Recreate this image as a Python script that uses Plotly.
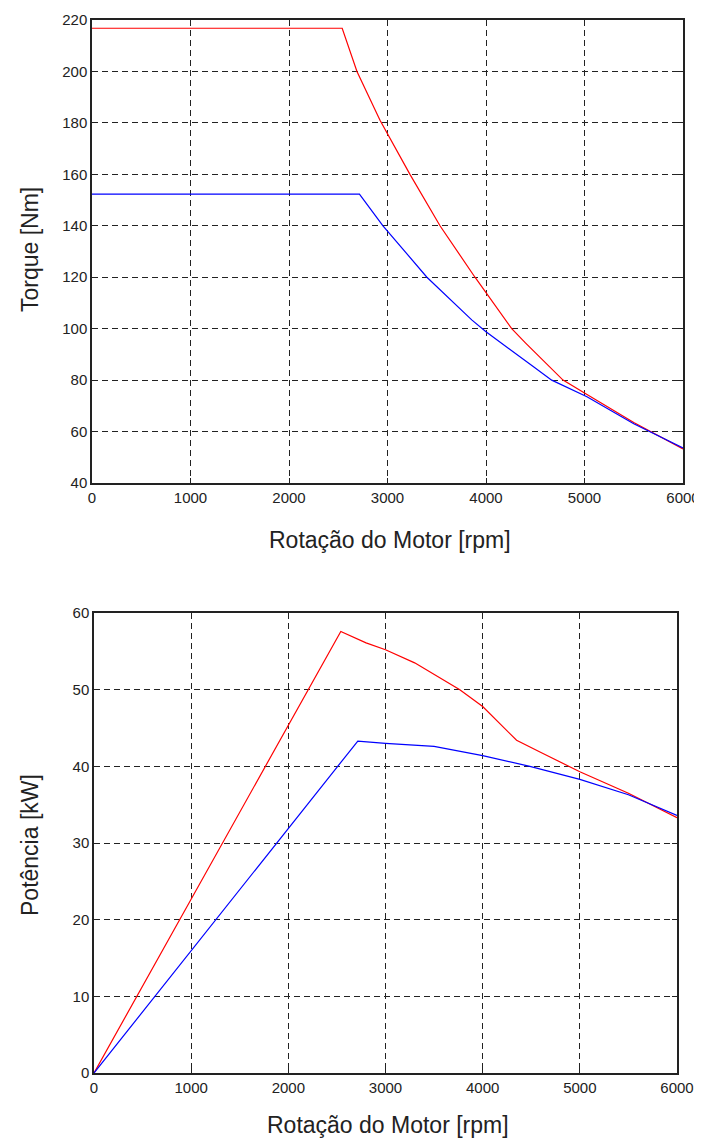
import plotly.graph_objects as go

# Torque curves (rpm, Nm)
red_torque_rpm = [0, 2540, 2690, 2924, 3228, 3533, 3888, 4261, 4400, 4782, 5000, 5500, 6000]
red_torque_nm = [216.8, 216.8, 200, 181, 160, 140, 120, 100, 94.5, 80, 75, 63.5, 53.2]
blue_torque_rpm = [0, 2715, 2954, 3400, 3855, 4000, 4486, 4667, 5025, 5500, 6000]
blue_torque_nm = [152.3, 152.3, 140, 120, 103.4, 98.8, 85.1, 80, 73.5, 63.0, 53.6]

# Power curves (rpm, kW)
red_power_rpm = [0, 1000, 2000, 2540, 2800, 3000, 3300, 3765, 4000, 4349, 4600, 4897, 5000, 5500, 6000]
red_power_kw = [0, 22.7, 45.4, 57.6, 56.1, 55.2, 53.5, 50.0, 47.8, 43.4, 41.8, 40.0, 39.3, 36.5, 33.3]
blue_power_rpm = [0, 1000, 2000, 2715, 3000, 3500, 4000, 4486, 5000, 5500, 6000]
blue_power_kw = [0, 15.9, 31.8, 43.3, 43.0, 42.6, 41.4, 40.0, 38.3, 36.3, 33.6]

x_ticks = [0, 1000, 2000, 3000, 4000, 5000, 6000]
torque_ticks = [40, 60, 80, 100, 120, 140, 160, 180, 200, 220]
power_ticks = [0, 10, 20, 30, 40, 50, 60]

# page body has an 8px margin: work in reference pixels, shifted by OFF
OFF = 8
W, H = 702 - OFF, 1145 - OFF


def fx(px):
    return (px - OFF) / W


def fy(py):
    return 1 - (py - OFF) / H


fig = go.Figure()
fig.add_trace(go.Scatter(x=red_torque_rpm, y=red_torque_nm, mode="lines",
                         line=dict(color="#ff0000", width=1.2), xaxis="x", yaxis="y", showlegend=False))
fig.add_trace(go.Scatter(x=blue_torque_rpm, y=blue_torque_nm, mode="lines",
                         line=dict(color="#0000ff", width=1.2), xaxis="x", yaxis="y", showlegend=False))
fig.add_trace(go.Scatter(x=red_power_rpm, y=red_power_kw, mode="lines",
                         line=dict(color="#ff0000", width=1.2), xaxis="x2", yaxis="y2", showlegend=False))
fig.add_trace(go.Scatter(x=blue_power_rpm, y=blue_power_kw, mode="lines",
                         line=dict(color="#0000ff", width=1.2), xaxis="x2", yaxis="y2", showlegend=False))

tickfont = dict(family="Liberation Sans, Arial, sans-serif", size=15, color="#222222")
common = dict(showline=True, linecolor="#222222", linewidth=1.5, mirror="ticks",
              ticks="inside", ticklen=5, tickcolor="#222222", tickwidth=1,
              showgrid=True, gridcolor="#222222", gridwidth=1, griddash="6px,4px",
              zeroline=False, tickfont=tickfont, automargin=False)

fig.update_layout(
    width=W, height=H,
    margin=dict(l=0, r=0, t=0, b=0),
    paper_bgcolor="white", plot_bgcolor="white",
    xaxis=dict(domain=[fx(92), fx(683)], range=[0, 6000], tickvals=x_ticks, anchor="y", **common),
    yaxis=dict(domain=[fy(483), fy(20)], range=[40, 220], tickvals=torque_ticks, anchor="x", **common),
    xaxis2=dict(domain=[fx(94), fx(677)], range=[0, 6000], tickvals=x_ticks, anchor="y2", **common),
    yaxis2=dict(domain=[fy(1073), fy(613)], range=[0, 60], tickvals=power_ticks, anchor="x2", **common),
)

titlefont = dict(family="Liberation Sans, Arial, sans-serif", size=23, color="#222222")
fig.add_annotation(text="Rotação do Motor [rpm]", x=fx(390), y=fy(540), xref="paper", yref="paper",
                   showarrow=False, font=titlefont, xanchor="center", yanchor="middle")
fig.add_annotation(text="Rotação do Motor [rpm]", x=fx(388), y=fy(1125), xref="paper", yref="paper",
                   showarrow=False, font=titlefont, xanchor="center", yanchor="middle")
fig.add_annotation(text="Torque [Nm]", x=fx(30), y=fy(250), xref="paper", yref="paper",
                   showarrow=False, font=titlefont, textangle=-90, xanchor="center", yanchor="middle")
fig.add_annotation(text="Potência [kW]", x=fx(30), y=fy(845), xref="paper", yref="paper",
                   showarrow=False, font=titlefont, textangle=-90, xanchor="center", yanchor="middle")

fig.write_html("out.html")
